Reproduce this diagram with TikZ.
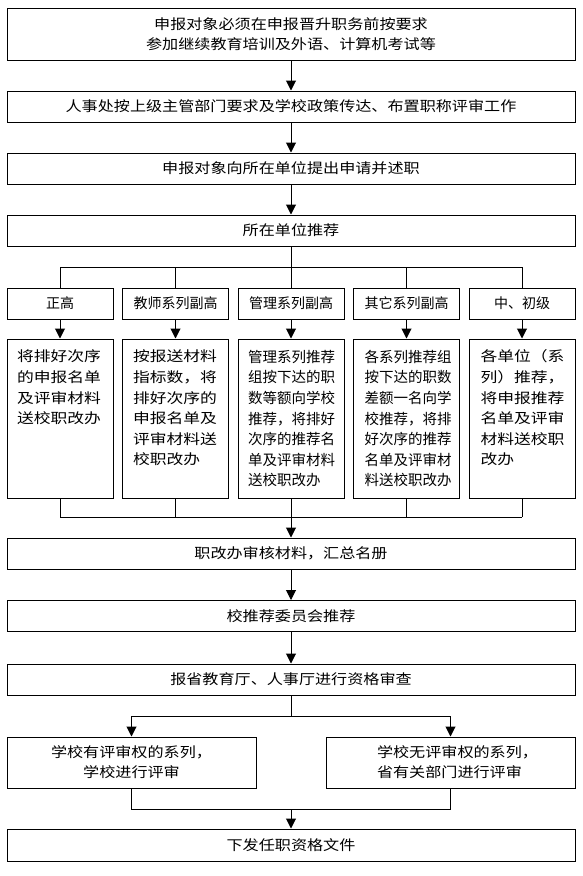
\documentclass[tikz,border=0pt]{standalone}
\usepackage{fontspec}
\setmainfont[FakeStretch=1.15]{Noto Sans CJK SC}
\newfontfamily\narrowcjk{Noto Sans CJK SC}
\newfontfamily\widecjk[FakeStretch=1.2]{Noto Sans CJK SC}
\usetikzlibrary{arrows.meta}
\newcommand\mainfs{\fontsize{14}{20}\selectfont}
\newcommand\tallfs{\widecjk\fontsize{14}{20.6}\selectfont}
\newcommand\narrowfs{\narrowcjk\fontsize{14.5}{20.6}\selectfont}
\newcommand\labelfs{\narrowcjk\fontsize{14}{20}\selectfont}
\begin{document}
\begin{tikzpicture}[x=1pt,y=-1pt,
  line width=1pt,
  box/.style={draw, line width=1pt, inner sep=0pt, align=center, font=\mainfs},
  wide/.style={box, minimum width=568pt, minimum height=31pt},
  small/.style={box, minimum width=106pt, minimum height=31pt, font=\labelfs},
  tall/.style={box, minimum width=106pt, minimum height=159pt},
  half/.style={box, minimum width=249pt, minimum height=51pt},
  talltext/.style={inner sep=0pt, align=left, anchor=north west, font=\tallfs},
  arr/.style={-{Triangle[length=10pt,width=10pt]}}]
\useasboundingbox (0,0) rectangle (582,876);

% main column
\node[wide, minimum height=52pt] (b1) at (291,34) {申报对象必须在申报晋升职务前按要求\\参加继续教育培训及外语、计算机考试等};
\node[wide] (b2) at (291,106.5) {人事处按上级主管部门要求及学校政策传达、布置职称评审工作};
\node[wide] (b3) at (291,168.5) {申报对象向所在单位提出申请并述职};
\node[wide] (b4) at (291,230.5) {所在单位推荐};

% category boxes
\node[small] (sA) at (60,303.5) {正高};
\node[small] (sB) at (175.5,303.5) {教师系列副高};
\node[small] (sC) at (291,303.5) {管理系列副高};
\node[small] (sD) at (406.5,303.5) {其它系列副高};
\node[small] (sE) at (522,303.5) {中、初级};

% tall boxes
\node[tall] (tA) at (60,418.5) {};
\node[tall] (tB) at (175.5,418.5) {};
\node[tall] (tC) at (291,418.5) {};
\node[tall] (tD) at (406.5,418.5) {};
\node[tall] (tE) at (522,418.5) {};
\node[talltext] (tAt) at ([xshift=10pt,yshift=-11pt]tA.north west) {将排好次序\\的申报名单\\及评审材料\\送校职改办};
\node[talltext] (tBt) at ([xshift=10.5pt,yshift=-11pt]tB.north west) {按报送材料\\指标数，将\\排好次序的\\申报名单及\\评审材料送\\校职改办};
\node[talltext, font=\narrowfs] (tCt) at ([xshift=10pt,yshift=-11pt]tC.north west) {管理系列推荐\\组按下达的职\\数等额向学校\\推荐，将排好\\次序的推荐名\\单及评审材料\\送校职改办};
\node[talltext, font=\narrowfs] (tDt) at ([xshift=11pt,yshift=-11pt]tD.north west) {各系列推荐组\\按下达的职数\\差额一名向学\\校推荐，将排\\好次序的推荐\\名单及评审材\\料送校职改办};
\node[talltext] (tEt) at ([xshift=11.5pt,yshift=-11pt]tE.north west) {各单位（系\\列）推荐，\\将申报推荐\\名单及评审\\材料送校职\\改办};

% lower column
\node[wide] (m1) at (291,553.5) {职改办审核材料，汇总名册};
\node[wide] (m2) at (291,616) {校推荐委员会推荐};
\node[wide] (m3) at (291,679.5) {报省教育厅、人事厅进行资格审查};
\node[half] (l) at (131.5,762.5) {学校有评审权的系列，\\学校进行评审};
\node[half] (r) at (450.5,762.5) {};
\node[inner sep=0pt, align=left, anchor=west, font=\mainfs] (rt) at ([xshift=51pt]r.west) {学校无评审权的系列，\\省有关部门进行评审};
\node[wide, minimum height=32pt] (fin) at (291,845) {下发任职资格文件};

% connectors top
\draw[arr] (b1.south) -- (b2.north);
\draw[arr] (b2.south) -- (b3.north);
\draw[arr] (b3.south) -- (b4.north);
\coordinate (s1) at (291,267);
\draw (b4.south) -- (s1);
\draw (sA.north |- s1) -- (sE.north |- s1);
\foreach \n in {sA,sB,sC,sD,sE} \draw (\n.north |- s1) -- (\n.north);
\foreach \a/\b in {sA/tA,sB/tB,sC/tC,sD/tD,sE/tE} \draw[arr] (\a.south) -- (\b.north);

% merge
\coordinate (j1) at (291,517);
\foreach \n in {tA,tB,tD,tE} \draw (\n.south) -- (\n.south |- j1);
\draw (tA.south |- j1) -- (tE.south |- j1);
\draw[arr] (tC.south) -- (m1.north);
\draw[arr] (m1.south) -- (m2.north);
\draw[arr] (m2.south) -- (m3.north);

% split
\coordinate (s2) at (291,716);
\draw (m3.south) -- (s2);
\draw (l.north |- s2) -- (r.north |- s2);
\draw[arr] (l.north |- s2) -- (l.north);
\draw[arr] (r.north |- s2) -- (r.north);
\coordinate (j2) at (291,809);
\draw (l.south) -- (l.south |- j2) -- (r.south |- j2) -- (r.south);
\draw[arr] (j2) -- (fin.north);
\end{tikzpicture}
\end{document}
